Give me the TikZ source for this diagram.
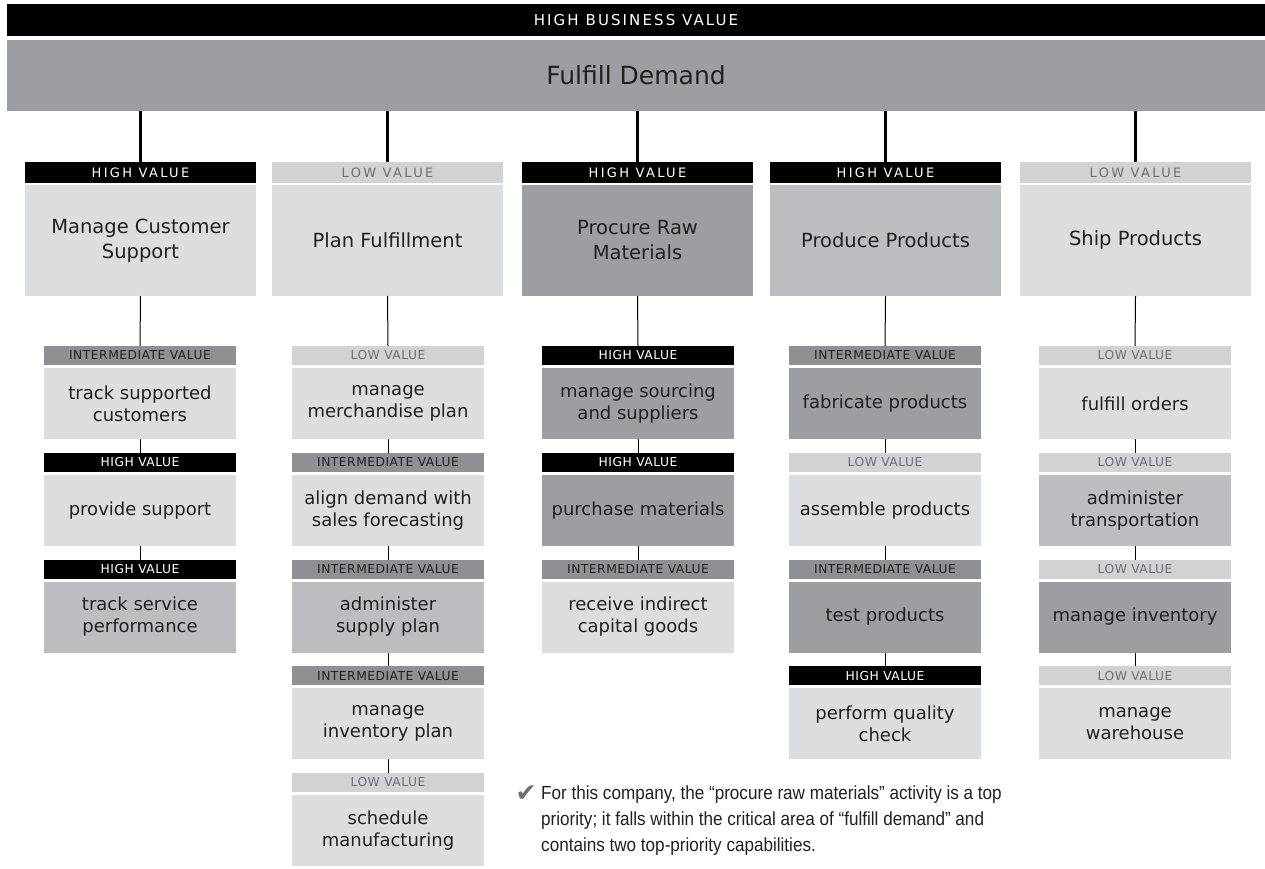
\documentclass[tikz,border=0pt]{standalone}
\usepackage{fontspec}
\setmainfont{DejaVu Sans}
\newfontfamily\dv{DejaVu Sans}
\newfontfamily\dvls[LetterSpace=18]{DejaVu Sans}
\newfontfamily\dvtop[LetterSpace=14]{DejaVu Sans}
\newfontfamily\dvsm[LetterSpace=4]{DejaVu Sans}
\newfontfamily\notefont[FakeStretch=0.9]{Liberation Sans}
\definecolor{txt}{HTML}{231F20}
\definecolor{barg}{HTML}{9D9EA1}
\definecolor{bdark}{HTML}{9D9EA1}
\definecolor{bmed}{HTML}{BCBDC0}
\definecolor{blight}{HTML}{DCDDDF}
\definecolor{hint}{HTML}{8F9094}
\definecolor{hlow}{HTML}{D1D2D4}
\definecolor{tlow}{HTML}{6D6E71}
\definecolor{chk}{HTML}{6D6E71}
\tikzset{
  hv/.style={fill=black,text=white},
  iv/.style={fill=hint,text=txt},
  lv/.style={fill=hlow,text=tlow},
  dk/.style={fill=bdark},
  md/.style={fill=bmed},
  lt/.style={fill=blight},
  mainhdr/.style={rectangle,inner sep=0pt,outer sep=0pt,minimum width=231,minimum height=21,font=\dvls\fontsize{13}{15}\selectfont},
  mainbox/.style={rectangle,inner sep=0pt,outer sep=0pt,minimum width=231,minimum height=111,text=txt,align=center,font=\dv\fontsize{19.5}{25}\selectfont},
  subhdr/.style={rectangle,inner sep=0pt,outer sep=0pt,minimum width=192,minimum height=19,font=\dvsm\fontsize{12.3}{14}\selectfont},
  subbox/.style={rectangle,inner sep=0pt,outer sep=0pt,minimum width=192,minimum height=71,text=txt,align=center,font=\dv\fontsize{18}{22}\selectfont},
  thick1/.style={line width=3pt,black},
  thin1/.style={line width=1pt,black},
}
% name, x, row, header style, header text, box style, box text
\newcommand\capitem[7]{%
  \pgfmathsetmacro\ytop{346+106.75*#3}%
  \node[subhdr,#4] (#1h) at (#2,\ytop+9.5) {#5};%
  \node[subbox,#6] (#1) at (#2,\ytop+57.5) {#7};%
}
\begin{document}
\begin{tikzpicture}[x=1pt,y=-1pt]
\useasboundingbox (0,0) rectangle (1265,869);
% top bars
\node[rectangle,fill=black,text=white,inner sep=0pt,outer sep=0pt,minimum width=1258,minimum height=32,anchor=north west,font=\dvtop\fontsize{15}{17}\selectfont] (hbv) at (7,4) {HIGH BUSINESS VALUE};
\node[rectangle,fill=barg,text=txt,inner sep=0pt,outer sep=0pt,minimum width=1258,minimum height=71,anchor=north west,font=\dv\fontsize{25}{29}\selectfont] (fd) at (7,40) {Fulfill Demand};
% main capabilities
\node[mainhdr,hv] (m1h) at (140.5,172.5) {HIGH VALUE};
\node[mainbox,lt] (m1) at (140.5,240.5) {Manage Customer\\Support};
\node[mainhdr,lv] (m2h) at (387.5,172.5) {LOW VALUE};
\node[mainbox,lt] (m2) at (387.5,240.5) {Plan Fulfillment};
\node[mainhdr,hv] (m3h) at (637.5,172.5) {HIGH VALUE};
\node[mainbox,dk] (m3) at (637.5,240.5) {Procure Raw\\Materials};
\node[mainhdr,hv] (m4h) at (885.5,172.5) {HIGH VALUE};
\node[mainbox,md] (m4) at (885.5,240.5) {Produce Products};
\node[mainhdr,lv] (m5h) at (1135.5,172.5) {LOW VALUE};
\node[mainbox,lt] (m5) at (1135.5,240.5) {Ship Products};
\foreach \i in {1,...,5}{
  \draw[thick1] (fd.south -| m\i h.north) -- (m\i h.north);
}
% column 1
\capitem{a1}{140}{0}{iv}{INTERMEDIATE VALUE}{lt}{track supported\\customers}
\capitem{a2}{140}{1}{hv}{HIGH VALUE}{lt}{provide support}
\capitem{a3}{140}{2}{hv}{HIGH VALUE}{md}{track service\\performance}
% column 2
\capitem{b1}{388}{0}{lv}{LOW VALUE}{lt}{manage\\merchandise plan}
\capitem{b2}{388}{1}{iv}{INTERMEDIATE VALUE}{lt}{align demand with\\sales forecasting}
\capitem{b3}{388}{2}{iv}{INTERMEDIATE VALUE}{md}{administer\\supply plan}
\capitem{b4}{388}{3}{iv}{INTERMEDIATE VALUE}{lt}{manage\\inventory plan}
\capitem{b5}{388}{4}{lv}{LOW VALUE}{lt}{schedule\\manufacturing}
% column 3
\capitem{c1}{638}{0}{hv}{HIGH VALUE}{dk}{manage sourcing\\and suppliers}
\capitem{c2}{638}{1}{hv}{HIGH VALUE}{dk}{purchase materials}
\capitem{c3}{638}{2}{iv}{INTERMEDIATE VALUE}{lt}{receive indirect\\capital goods}
% column 4
\capitem{d1}{885}{0}{iv}{INTERMEDIATE VALUE}{dk}{fabricate products}
\capitem{d2}{885}{1}{lv}{LOW VALUE}{lt}{assemble products}
\capitem{d3}{885}{2}{iv}{INTERMEDIATE VALUE}{dk}{test products}
\capitem{d4}{885}{3}{hv}{HIGH VALUE}{lt}{perform quality\\check}
% column 5
\capitem{e1}{1135}{0}{lv}{LOW VALUE}{lt}{fulfill orders}
\capitem{e2}{1135}{1}{lv}{LOW VALUE}{md}{administer\\transportation}
\capitem{e3}{1135}{2}{lv}{LOW VALUE}{dk}{manage inventory}
\capitem{e4}{1135}{3}{lv}{LOW VALUE}{lt}{manage\\warehouse}
% connectors
\draw[thin1] (m1.south) -- (a1h.north);
\draw[thin1] (a1.south) -- (a2h.north);
\draw[thin1] (a2.south) -- (a3h.north);
\draw[thin1] (m2.south) -- (b1h.north);
\draw[thin1] (b1.south) -- (b2h.north);
\draw[thin1] (b2.south) -- (b3h.north);
\draw[thin1] (b3.south) -- (b4h.north);
\draw[thin1] (b4.south) -- (b5h.north);
\draw[thin1] (m3.south) -- (c1h.north);
\draw[thin1] (c1.south) -- (c2h.north);
\draw[thin1] (c2.south) -- (c3h.north);
\draw[thin1] (m4.south) -- (d1h.north);
\draw[thin1] (d1.south) -- (d2h.north);
\draw[thin1] (d2.south) -- (d3h.north);
\draw[thin1] (d3.south) -- (d4h.north);
\draw[thin1] (m5.south) -- (e1h.north);
\draw[thin1] (e1.south) -- (e2h.north);
\draw[thin1] (e2.south) -- (e3h.north);
\draw[thin1] (e3.south) -- (e4h.north);
% note
\node[text=chk,inner sep=0pt,font=\dv\fontsize{25}{25}\selectfont] (check) at (526,794) {✔};
\node[anchor=north west,inner sep=0pt,align=left,text=txt,font=\notefont\fontsize{19}{26}\selectfont] (note) at (541,786)
  {For this company, the “procure raw materials” activity is a top\\
   priority; it falls within the critical area of “fulfill demand” and\\
   contains two top-priority capabilities.};
\end{tikzpicture}
\end{document}
